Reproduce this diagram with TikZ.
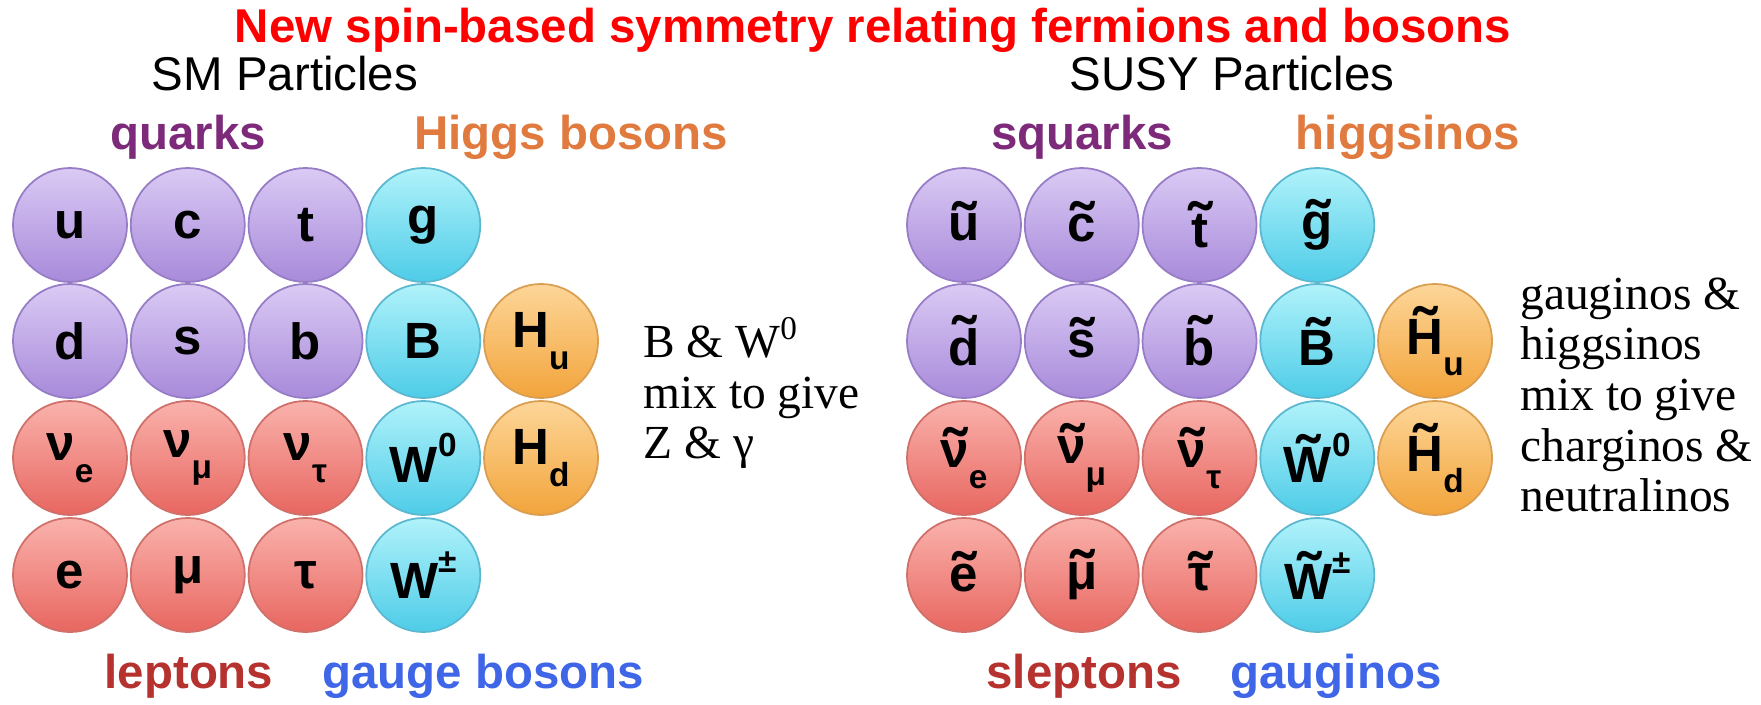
\documentclass[tikz,border=0pt]{standalone}
\usepackage{fontspec}
\setmainfont{Liberation Serif}
\setsansfont{Liberation Sans}
\usepackage{tikz}
\usetikzlibrary{positioning}
\definecolor{rojotitulo}{RGB}{255,0,0}
\definecolor{morado}{RGB}{125,42,122}
\definecolor{naranja}{RGB}{224,122,62}
\definecolor{granate}{RGB}{182,50,46}
\definecolor{azul}{RGB}{64,102,232}
\definecolor{quarkclaro}{RGB}{218,202,244}
\definecolor{quarkoscuro}{RGB}{168,138,218}
\definecolor{quarkborde}{RGB}{150,125,198}
\definecolor{leptonclaro}{RGB}{250,178,172}
\definecolor{leptonoscuro}{RGB}{232,102,96}
\definecolor{leptonborde}{RGB}{208,112,106}
\definecolor{gaugeclaro}{RGB}{176,242,250}
\definecolor{gaugeoscuro}{RGB}{78,204,232}
\definecolor{gaugeborde}{RGB}{92,184,208}
\definecolor{higgsclaro}{RGB}{253,214,152}
\definecolor{higgsoscuro}{RGB}{242,164,60}
\definecolor{higgsborde}{RGB}{218,158,82}
\newcommand{\tildeletra}[1]{\setbox0\hbox{#1}%
  \setbox2\hbox{\fontsize{19}{19}\selectfont\char"02DC}%
  \leavevmode\rlap{\hbox to\wd0{\hss\raisebox{\dimexpr\ht0-1ex-0.16em\relax}{\box2}\hss}}\box0}
\newcommand{\subind}[1]{\raisebox{-0.8ex}{\fontsize{9.5}{10}\selectfont #1}}
\newcommand{\supind}[1]{\raisebox{0.95ex}{\fontsize{9.5}{10}\selectfont #1}}

\begin{document}
\begin{tikzpicture}[
  bola/.style={circle, minimum size=1.14cm, inner sep=0pt, line width=0.5pt,
    font=\sffamily\bfseries\fontsize{14.5}{16}\selectfont},
  quark/.style={bola, draw=quarkborde, top color=quarkclaro, bottom color=quarkoscuro},
  lepton/.style={bola, draw=leptonborde, top color=leptonclaro, bottom color=leptonoscuro},
  gauge/.style={bola, draw=gaugeborde, top color=gaugeclaro, bottom color=gaugeoscuro},
  higgs/.style={bola, draw=higgsborde, top color=higgsclaro, bottom color=higgsoscuro},
  grupo/.style={anchor=base, font=\sffamily\bfseries\fontsize{13.5}{16}\selectfont},
  encabezado/.style={anchor=base, font=\sffamily\fontsize{13.5}{16}\selectfont},
  mezcla/.style={anchor=west, align=left, font=\fontsize{13.5}{14.4}\selectfont}
]
\useasboundingbox (0,0) rectangle (17.61,-7.04);
% Titulo
\node[grupo, text=rojotitulo] (titulo) at (8.73,-0.42)
  {New spin-based symmetry relating fermions and bosons};
\node[encabezado] (sm) at (2.85,-0.90) {SM Particles};
\node[encabezado] (susy) at (12.32,-0.90) {SUSY Particles};
% Grupos del SM
\node[grupo, text=morado] (quarks) at (1.88,-1.49) {quarks};
\node[grupo, text=naranja] (higgsb) at (5.71,-1.49) {Higgs bosons};
\node[grupo, text=granate] (leptons) at (1.89,-6.88) {leptons};
\node[grupo, text=azul] (gaugeb) at (4.83,-6.88) {gauge bosons};
% Particulas del SM
\node[quark] (u) at (0.70,-2.25) {u};
\node[quark, right=0.02cm of u] (c) {c};
\node[quark, right=0.02cm of c] (t) {t};
\node[gauge, right=0.02cm of t] (g) {g};
\node[quark] (d) at (0.70,-3.41) {d};
\node[quark, right=0.02cm of d] (s) {s};
\node[quark, right=0.02cm of s] (b) {b};
\node[gauge, right=0.02cm of b] (B) {B};
\node[higgs, right=0.02cm of B] (Hu) {H\subind{u}};
\node[lepton] (ve) at (0.70,-4.58) {ν\subind{e}};
\node[lepton, right=0.02cm of ve] (vm) {ν\subind{μ}};
\node[lepton, right=0.02cm of vm] (vt) {ν\subind{τ}};
\node[gauge, right=0.02cm of vt] (W0) {W\supind{0}};
\node[higgs, right=0.02cm of W0] (Hd) {H\subind{d}};
\node[lepton] (e) at (0.70,-5.75) {e};
\node[lepton, right=0.02cm of e] (mu) {μ};
\node[lepton, right=0.02cm of mu] (tau) {τ};
\node[gauge, right=0.02cm of tau] (Wpm) {W\supind{±}};
\node[mezcla] (mezclasm) at (6.31,-3.93) {B \& W\textsuperscript{0}\\ mix to give\\ Z \& γ};
% Grupos SUSY
\node[grupo, text=morado] (squarks) at (10.82,-1.49) {squarks};
\node[grupo, text=naranja] (higgsinos) at (14.08,-1.49) {higgsinos};
\node[grupo, text=granate] (sleptons) at (10.84,-6.88) {sleptons};
\node[grupo, text=azul] (gauginos) at (13.36,-6.88) {gauginos};
% Particulas SUSY
\node[quark] (su) at (9.64,-2.25) {\tildeletra{u}};
\node[quark, right=0.02cm of su] (sc) {\tildeletra{c}};
\node[quark, right=0.02cm of sc] (st) {\tildeletra{t}};
\node[gauge, right=0.02cm of st] (sg) {\tildeletra{g}};
\node[quark] (sd) at (9.64,-3.41) {\tildeletra{d}};
\node[quark, right=0.02cm of sd] (ss) {\tildeletra{s}};
\node[quark, right=0.02cm of ss] (sb) {\tildeletra{b}};
\node[gauge, right=0.02cm of sb] (sB) {\tildeletra{B}};
\node[higgs, right=0.02cm of sB] (sHu) {\tildeletra{H}\subind{u}};
\node[lepton] (sve) at (9.64,-4.58) {\tildeletra{ν}\subind{e}};
\node[lepton, right=0.02cm of sve] (svm) {\tildeletra{ν}\subind{μ}};
\node[lepton, right=0.02cm of svm] (svt) {\tildeletra{ν}\subind{τ}};
\node[gauge, right=0.02cm of svt] (sW0) {\tildeletra{W}\supind{0}};
\node[higgs, right=0.02cm of sW0] (sHd) {\tildeletra{H}\subind{d}};
\node[lepton] (se) at (9.64,-5.75) {\tildeletra{e}};
\node[lepton, right=0.02cm of se] (smu) {\tildeletra{μ}};
\node[lepton, right=0.02cm of smu] (stau) {\tildeletra{τ}};
\node[gauge, right=0.02cm of stau] (sWpm) {\tildeletra{W}\supind{±}};
\node[mezcla] (mezclasusy) at (15.08,-3.95) {gauginos \&\\ higgsinos\\ mix to give\\
  charginos \&\\ neutralinos};
\end{tikzpicture}
\end{document}
